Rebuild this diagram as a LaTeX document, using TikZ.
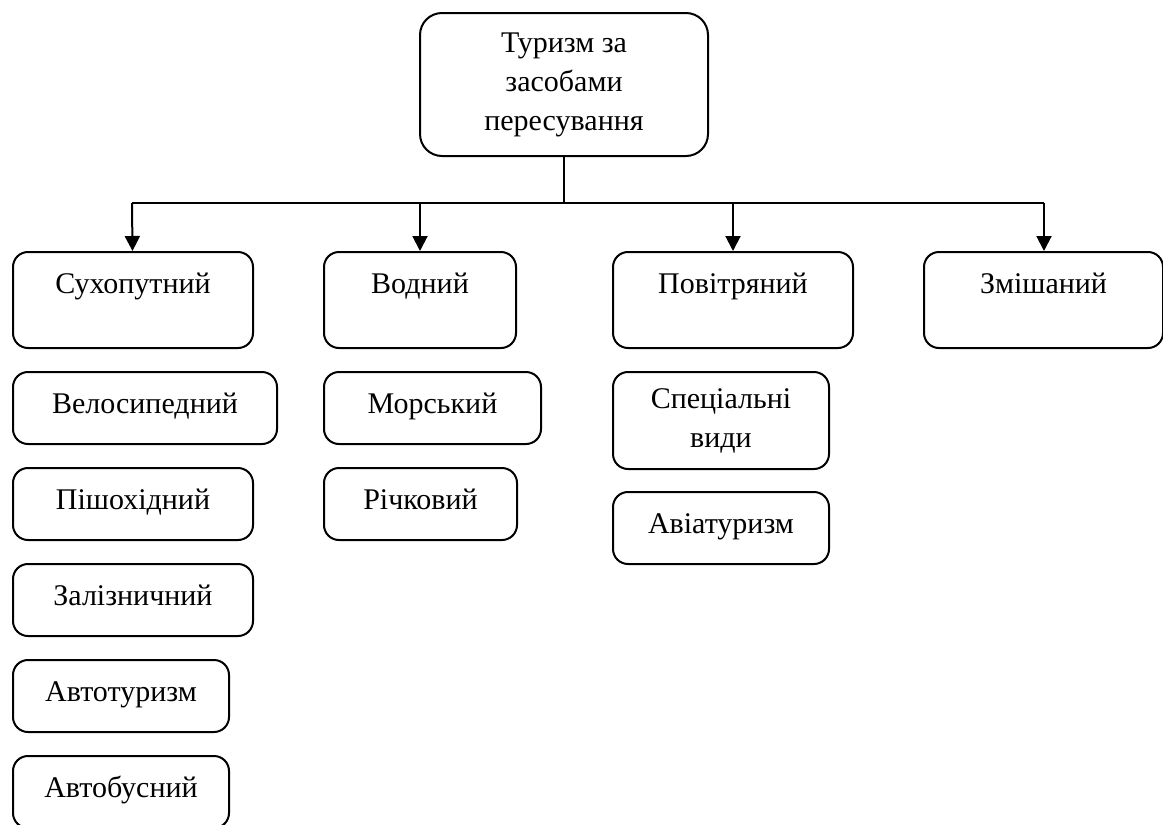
\documentclass[tikz,border=0pt]{standalone}
\usepackage{fontspec}
\setmainfont{Liberation Serif}
\usetikzlibrary{arrows.meta}
\tikzstyle{box} = [draw, line width=2pt, rounded corners=15pt, anchor=north west, inner sep=0pt, align=center, font=\fontsize{30}{39}\selectfont, text height=20pt, text depth=10pt, minimum height=72pt]
\tikzstyle{tall} = [box, minimum height=96pt, text height=22pt, text depth=36pt]
\tikzstyle{link} = [line width=2pt, -{Triangle[width=15pt,length=15pt]}]

\begin{document}
\begin{tikzpicture}[x=1pt, y=-1pt]
            \useasboundingbox (0,0) rectangle (1163,825);

            \node[box, rounded corners=22pt, minimum width=288pt, minimum height=143pt, text height=, text depth=]
                                (top)   at (419,  12)   {Туризм за\\засобами\\пересування};

            \node[tall, minimum width=240pt]   (suh)   at ( 12, 251)   {Сухопутний};
            \node[tall, minimum width=192pt]   (vod)   at (323, 251)   {Водний};
            \node[tall, minimum width=240pt]   (pov)   at (612, 251)   {Повітряний};
            \node[tall, minimum width=239pt]   (zmi)   at (923, 251)   {Змішаний};

            \node[box, minimum width=264pt]    (vel)   at ( 12, 371)   {Велосипедний};
            \node[box, minimum width=240pt]    (pis)   at ( 12, 467)   {Пішохідний};
            \node[box, minimum width=240pt]    (zal)   at ( 12, 563)   {Залізничний};
            \node[box, minimum width=216pt]    (avt)   at ( 12, 659)   {Автотуризм};
            \node[box, minimum width=216pt]    (bus)   at ( 12, 755)   {Автобусний};

            \node[box, minimum width=217pt]    (mor)   at (323, 371)   {Морський};
            \node[box, minimum width=193pt]    (ric)   at (323, 467)   {Річковий};

            \node[box, minimum width=216pt, minimum height=97pt, text height=, text depth=]
                                               (spe)   at (612, 371)   {Спеціальні\\види};
            \node[box, minimum width=216pt]    (avi)   at (612, 491)   {Авіатуризм};

            \coordinate (b1) at (132, 203);
            \coordinate (b4) at (1044, 203);

            \draw[line width=2pt] (top.south) -- (top.south |- b1);
            \draw[line width=2pt] (b1) -- (b4);
            \draw[link] (b1) -- (suh);
            \draw[link] (vod.north |- b1) -- (vod);
            \draw[link] (pov.north |- b1) -- (pov);
            \draw[link] (b4) -- (b4 |- zmi.north);
        \end{tikzpicture}
\end{document}
